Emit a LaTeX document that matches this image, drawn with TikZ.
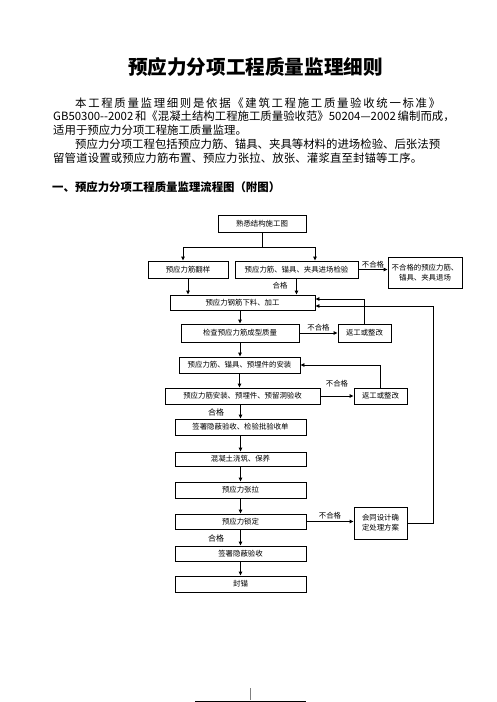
\documentclass[tikz,border=0pt]{standalone}
\usepackage{fontspec}
\newfontfamily\cjk{Noto Sans CJK SC}
\usetikzlibrary{arrows.meta}

\makeatletter
\newcommand{\jline}[2]{\makebox[#1][s]{#2}}
\newcommand{\spreadline}[2]{\hbox to #1{\spread@chars#2\@nil}}
\def\spread@chars#1#2\@nil{#1\ifx\relax#2\relax\else\hfil\spread@chars#2\@nil\fi}
\makeatother

\begin{document}
\begin{tikzpicture}[x=1pt,y=-1pt]
  \tikzstyle{every node}=[font=\cjk\fontsize{7.4}{10}\selectfont, inner sep=0]
  \tikzstyle{stepbox}=[draw, line width=0.9pt, align=center]
  \tikzstyle{arr}=[line width=0.9pt, -{Triangle[length=4pt,width=3.6pt]}]
  \tikzstyle{para}=[anchor=west, font=\cjk\fontsize{11.4}{14}\selectfont]
  \tikzstyle{okmark}=[font=\cjk\fontsize{8}{10}\selectfont]

  \useasboundingbox (0,0) rectangle (496,702);
  \fill[white] (0,0) rectangle (496,702);

  \node[font=\cjk\bfseries\fontsize{19.6}{24}\selectfont] (title) at (255.5,67) {预应力分项工程质量监理细则};

  \node[para] (line1) at (75,103) {\spreadline{365pt}{本工程质量监理细则是依据《建筑工程施工质量验收统一标准》}};
  \node[para] (line2) at (53,116.5) {\jline{390pt}{GB50300-{}-2002 和《混凝土结构工程施工质量验收范》50204—2002 编制而成，}};
  \node[para] (line3) at (53,130) {适用于预应力分项工程施工质量监理。};
  \node[para] (line4) at (75,144) {\spreadline{365pt}{预应力分项工程包括预应力筋、锚具、夹具等材料的进场检验、后张法预}};
  \node[para] (line5) at (53,158) {\spreadline{369pt}{留管道设置或预应力筋布置、预应力张拉、放张、灌浆直至封锚等工序。}};
  \node[para, font=\cjk\bfseries\fontsize{11.4}{14}\selectfont] (head) at (52,187) {一、预应力分项工程质量监理流程图（附图）};

  % flow chart
  \node[stepbox, minimum width=88, minimum height=17] (plan) at (262,223.5) {熟悉结构施工图};
  \node[stepbox, minimum width=80, minimum height=17] (layout) at (188,269.5) {预应力筋翻样};
  \node[stepbox, minimum width=123, minimum height=17] (entry) at (296.5,269.5) {预应力筋、锚具、夹具进场检验};
  \node[stepbox, minimum width=74, minimum height=31] (reject) at (425,272.5) {不合格的预应力筋、\\锚具、夹具退场};
  \node[stepbox, minimum width=145, minimum height=15] (cut) at (242.5,302.5) {预应力钢筋下料、加工};
  \node[stepbox, minimum width=118, minimum height=18] (form) at (240,333) {检查预应力筋成型质量};
  \node[stepbox, minimum width=53, minimum height=18] (redoA) at (364.5,333) {返工或整改};
  \node[stepbox, minimum width=121, minimum height=16] (install) at (239.5,365) {预应力筋、锚具、预埋件的安装};
  \node[stepbox, minimum width=155, minimum height=16] (accept) at (242.5,396) {预应力筋安装、预埋件、预留洞验收};
  \node[stepbox, minimum width=53, minimum height=16] (redoB) at (380.5,396) {返工或整改};
  \node[stepbox, minimum width=131, minimum height=16] (signA) at (240.5,427) {签署隐蔽验收、检验批验收单};
  \node[stepbox, minimum width=131, minimum height=14] (pour) at (240.5,459) {混凝土浇筑、保养};
  \node[stepbox, minimum width=131, minimum height=16] (tension) at (240.5,490) {预应力张拉};
  \node[stepbox, minimum width=131, minimum height=15] (lock) at (240.5,521.5) {预应力锁定};
  \node[stepbox, minimum width=131, minimum height=15] (signB) at (240.5,553.5) {签署隐蔽验收};
  \node[stepbox, minimum width=131, minimum height=16] (seal) at (240.5,584) {封锚};
  \node[stepbox, minimum width=53, minimum height=32] (design) at (380.5,523) {会同设计确\\定处理方案};

  \coordinate (split) at (262,247);
  \draw[line width=0.9pt] (plan.south) -- (split);
  \draw[arr] (split) -| ([xshift=-5]layout.north);
  \draw[arr] (split) -| ([xshift=18.5]entry.north);
  \draw[arr] (entry.east) -- (entry.east -| reject.west) node[midway, above=1pt] {不合格};
  \draw[arr] (layout.south) -- (layout.south |- cut.north);
  \draw[arr] (entry.south) -- (entry.south |- cut.north);
  \node (ok1) at (280,286) {合格};

  \draw[arr] (form.north |- cut.south) -- (form.north);
  \draw[arr] (form.east) -- (redoA.west) node[midway, above=1.5pt] {不合格};
  \draw[arr] (redoA.north) |- ([yshift=3.5]cut.east);

  \draw[arr] (form.south) -- (form.south |- install.north);
  \draw[arr] (install.south) -- (install.south |- accept.north);
  \draw[arr] (accept.east) -- (redoB.west) node[midway, above=8pt] {不合格};
  \draw[arr] (redoB.north) |- (install.east);

  \draw[arr] (signA.north |- accept.south) -- (signA.north);
  \node[okmark] (ok2) at (216,412) {合格};
  \draw[arr] (signA.south) -- (pour.north);
  \draw[arr] (pour.south) -- (tension.north);
  \draw[arr] (tension.south) -- (lock.north);
  \draw[arr] (lock.east) -- (lock.east -| design.west) node[midway, above=2pt] {不合格};
  \draw[arr] (lock.south) -- (signB.north);
  \node[okmark] (ok3) at (216,538) {合格};
  \draw[arr] (signB.south) -- (seal.north);
  \draw[arr] (design.east) -- ++(26,0) |- ([yshift=-3.5]cut.east);

  % page foot
  \draw[line width=0.8pt] (195,701) -- (306,701);
  \draw[gray, line width=0.8pt] (250,688) -- (250,700);
\end{tikzpicture}
\end{document}
